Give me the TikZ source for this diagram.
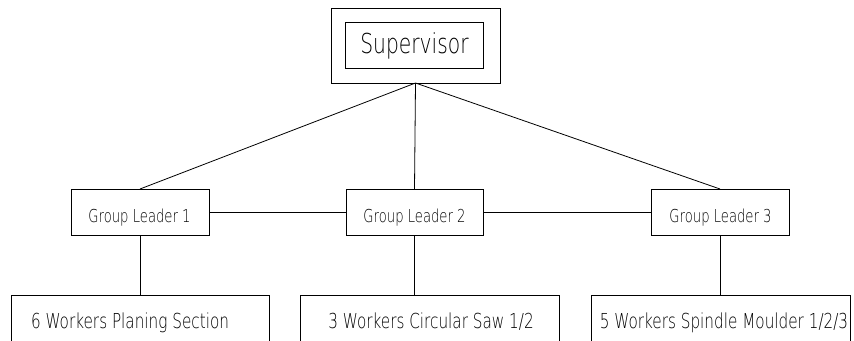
\documentclass[tikz,border=0pt]{standalone}
\usepackage{fontspec}
\newfontfamily\chartfont[FakeStretch=0.74]{DejaVu Sans ExtraLight}
\begin{document}
\begin{tikzpicture}[x=1pt,y=-1pt,
  box/.style={draw,line width=0.8pt,inner sep=0pt,outer sep=0pt},
  link/.style={line width=0.8pt},
  bigtxt/.style={anchor=base,inner sep=0pt,font=\chartfont\fontsize{27.4}{30}\selectfont},
  midtxt/.style={anchor=base,inner sep=0pt,font=\chartfont\fontsize{17.8}{20}\selectfont},
  smalltxt/.style={anchor=base,inner sep=0pt,font=\chartfont\fontsize{20.6}{23}\selectfont}]
\useasboundingbox (0,0) rectangle (854,340);

% supervisor: double frame
\node[box,minimum width=169,minimum height=75] (supo) at (415.5,45.5) {};
\node[box,minimum width=138,minimum height=46] (supi) at (414,45) {};
\node[bigtxt] (supt) at (414.5,53) {Supervisor};

% group leaders
\node[box,minimum width=138,minimum height=46] (gl1) at (140,212) {};
\node[box,minimum width=137,minimum height=46] (gl2) at (414.5,212) {};
\node[box,minimum width=138,minimum height=46] (gl3) at (720,212) {};
\node[midtxt] (gl1t) at (139.5,222) {Group Leader 1};
\node[midtxt] (gl2t) at (414.5,222) {Group Leader 2};
\node[midtxt] (gl3t) at (720.5,222) {Group Leader 3};

% worker sections (run past the lower edge)
\node[box,minimum width=258,minimum height=70,anchor=north] (w1) at (140,295) {};
\node[box,minimum width=259,minimum height=70,anchor=north] (w2) at (429.5,295) {};
\node[box,minimum width=259,minimum height=70,anchor=north] (w3) at (720.5,295) {};
\node[smalltxt] (w1t) at (130,328) {6 Workers Planing Section};
\node[smalltxt] (w2t) at (431,328) {3 Workers Circular Saw 1/2};
\node[smalltxt] (w3t) at (724,328) {5 Workers Spindle Moulder 1/2/3};

% connectors
\draw[link] (supo.south) -- (gl1.north);
\draw[link] (supo.south) -- (gl2.north);
\draw[link] (supo.south) -- (gl3.north);
\draw[link] (gl1.east) -- (gl2.west);
\draw[link] (gl2.east) -- (gl3.west);
\draw[link] (gl1.south) -- (gl1.south |- w1.north);
\draw[link] (gl2.south) -- (gl2.south |- w2.north);
\draw[link] (gl3.south) -- (gl3.south |- w3.north);
\end{tikzpicture}
\end{document}
